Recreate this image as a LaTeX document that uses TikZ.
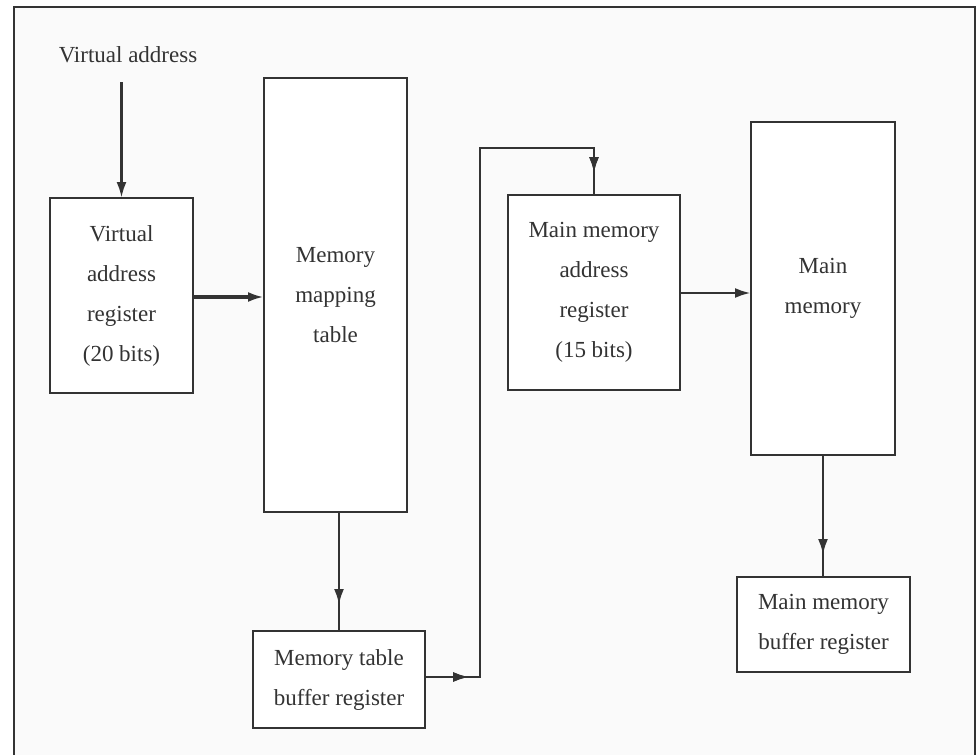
\documentclass[tikz,border=0pt]{standalone}
\usepackage{fontspec}
\setmainfont{Liberation Serif}
\usetikzlibrary{arrows.meta,decorations.markings}
\definecolor{ink}{HTML}{333333}
\definecolor{paper}{HTML}{FAFAFA}
\begin{document}
\begin{tikzpicture}[x=0.5pt,y=-0.5pt,
  box/.style={draw=ink, line width=1.4pt, fill=white, inner sep=0pt, outer sep=0pt,
    align=center, text=ink, font=\fontsize{11.5pt}{20pt}\selectfont},
  lbl/.style={text=ink, font=\fontsize{11.5pt}{20pt}\selectfont, inner sep=2pt},
  conn/.style={draw=ink, line width=1.4pt},
  tip/.style={-{Latex[length=8pt,width=5pt]}},
  midtip/.style={postaction={decorate}, decoration={markings,
      mark=at position #1 with {\arrow{Latex[length=8pt,width=5pt]}}}}
]
\useasboundingbox (0,0) rectangle (976,755);
\fill[white] (0,0) rectangle (976,755);
\fill[paper] (14,7) rectangle (975,755);
\draw[ink, line width=1pt] (14,755) -- (14,7) -- (975,7) -- (975,755);

% nodes
\node[lbl] (va) at (128,55) {Virtual address};
\node[box, minimum width=71.5pt, minimum height=97.5pt] (var) at (121.5,295.5)
  {Virtual\\address\\register\\(20 bits)};
\node[box, minimum width=71.5pt, minimum height=217pt] (mmt) at (335.5,295)
  {Memory\\mapping\\table};
\node[box, minimum width=86pt, minimum height=48.5pt] (mtbr) at (339,679.5)
  {Memory table\\buffer register};
\node[box, minimum width=86pt, minimum height=97.5pt] (mmar) at (594,292.5)
  {Main memory\\address\\register\\(15 bits)};
\node[box, minimum width=72pt, minimum height=166.5pt] (mm) at (823,288.5)
  {Main\\memory};
\node[box, minimum width=86.5pt, minimum height=47.5pt] (mmbr) at (823.5,624.5)
  {Main memory\\buffer register};

\coordinate (c1) at (480,677);
\coordinate (c2) at (480,148);
\coordinate (c3) at (594,148);

% connectors
\draw[conn, tip] (var.north |- 0,82) -- (var.north);
\draw[draw=ink, line width=2.2pt, tip] (var.east |- 0,297) -- (mmt.west |- 0,297);
\draw[conn, midtip=-13pt] (mtbr.north |- mmt.south) -- (mtbr.north);
\draw[conn, midtip=22pt, postaction={decorate}, decoration={markings,
      mark=at position -11pt with {\arrow{Latex[length=8pt,width=5pt]}}}]
  (mtbr.east |- c1) -- (c1) -- (c2) -- (c3) -- (mmar.north);
\draw[conn, tip] (mmar.east |- 0,293) -- (mm.west |- 0,293);
\draw[conn, midtip=-11pt] (mm.south) -- (mmbr.north -| mm.south);
\end{tikzpicture}
\end{document}
